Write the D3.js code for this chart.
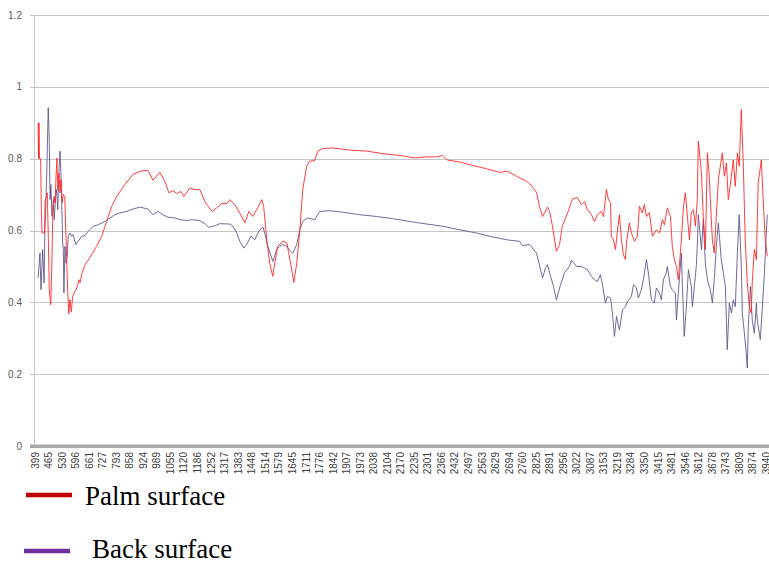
<!DOCTYPE html>
<html>
<head>
<meta charset="utf-8">
<script src="https://cdn.jsdelivr.net/npm/d3@7"></script>
<style>
  html, body { margin: 0; padding: 0; background: #fff; }
  svg { display: block; }
</style>
</head>
<body>
<svg id="chart" width="769" height="563"></svg>
<script>
// ---- data ----
const xTickLabels = ["399","465","530","596","661","727","793","858","924","989","1055","1120","1186","1252","1317","1383","1448","1514","1579","1645","1711","1776","1842","1907","1973","2038","2104","2170","2235","2301","2366","2432","2497","2563","2629","2694","2760","2825","2891","2956","3022","3087","3153","3219","3284","3350","3415","3481","3546","3612","3678","3743","3809","3874","3940"];
const yTicks = [0, 0.2, 0.4, 0.6, 0.8, 1, 1.2];
const seriesNames = ["Palm surface", "Back surface"];

const palmWavenumber = [414,416,418,421,426,430,433,445,448,455,458,463,468,475,480,485,491,496,501,505,510,515,520,525,530,536,543,547,552,557,563,568,575,581,589,597,604,612,617,626,641,665,697,722,746,770,794,834,873,907,945,970,1003,1028,1047,1066,1086,1105,1120,1149,1173,1197,1221,1255,1279,1303,1328,1342,1366,1390,1415,1434,1453,1477,1497,1506,1521,1535,1550,1560,1574,1598,1618,1627,1642,1652,1666,1681,1695,1714,1729,1753,1768,1792,1840,1922,2005,2082,2164,2237,2295,2343,2372,2396,2454,2517,2585,2648,2686,2730,2778,2807,2827,2841,2856,2865,2880,2890,2904,2923,2938,2952,2977,3001,3025,3044,3059,3073,3093,3107,3122,3141,3151,3165,3175,3185,3189,3199,3209,3218,3228,3238,3247,3257,3262,3276,3286,3301,3315,3325,3339,3349,3359,3373,3388,3407,3422,3436,3446,3460,3475,3484,3494,3504,3513,3528,3538,3547,3557,3567,3576,3586,3596,3605,3610,3625,3634,3644,3654,3663,3673,3678,3687,3697,3707,3721,3726,3736,3746,3755,3770,3779,3789,3799,3808,3818,3828,3837,3847,3857,3866,3871,3881,3891,3900,3915,3924,3934,3944];
const palmValue = [0.90,0.80,0.90,0.80,0.80,0.65,0.593,0.593,0.686,0.69,0.705,0.593,0.435,0.393,0.491,0.639,0.695,0.677,0.751,0.802,0.714,0.76,0.705,0.742,0.677,0.70,0.695,0.621,0.528,0.435,0.368,0.407,0.374,0.416,0.426,0.435,0.444,0.463,0.455,0.48,0.505,0.525,0.556,0.584,0.625,0.667,0.695,0.728,0.756,0.765,0.768,0.74,0.762,0.737,0.705,0.711,0.703,0.709,0.695,0.718,0.714,0.714,0.681,0.653,0.663,0.675,0.675,0.686,0.672,0.649,0.621,0.653,0.639,0.663,0.686,0.667,0.574,0.509,0.472,0.51,0.556,0.57,0.566,0.538,0.49,0.455,0.509,0.60,0.714,0.779,0.793,0.795,0.821,0.828,0.83,0.824,0.821,0.814,0.809,0.802,0.805,0.805,0.809,0.796,0.791,0.781,0.772,0.762,0.765,0.751,0.737,0.723,0.705,0.667,0.639,0.649,0.665,0.653,0.612,0.542,0.561,0.612,0.649,0.688,0.692,0.672,0.681,0.658,0.644,0.625,0.644,0.653,0.639,0.714,0.686,0.677,0.584,0.574,0.547,0.598,0.644,0.574,0.533,0.519,0.565,0.621,0.593,0.57,0.584,0.667,0.649,0.672,0.639,0.65,0.584,0.602,0.593,0.63,0.616,0.663,0.639,0.556,0.519,0.50,0.463,0.574,0.667,0.705,0.639,0.574,0.649,0.658,0.612,0.686,0.849,0.76,0.639,0.547,0.816,0.751,0.63,0.574,0.537,0.639,0.742,0.796,0.816,0.751,0.788,0.686,0.751,0.796,0.723,0.816,0.779,0.937,0.779,0.574,0.454,0.388,0.37,0.454,0.547,0.519,0.733,0.796,0.686,0.574,0.528];

const backWavenumber = [414,423,428,436,443,447,456,463,468,472,476,481,488,492,499,504,509,515,520,525,530,533,536,539,544,549,555,560,568,576,584,596,608,625,641,657,681,705,722,738,762,786,810,842,874,907,945,970,994,1018,1042,1076,1100,1134,1163,1197,1221,1240,1269,1294,1342,1357,1376,1390,1410,1424,1444,1463,1482,1502,1511,1526,1545,1550,1569,1584,1598,1618,1632,1647,1666,1681,1695,1705,1719,1753,1777,1826,1888,1971,2053,2130,2213,2295,2372,2454,2537,2614,2696,2744,2759,2793,2827,2846,2856,2870,2880,2890,2909,2923,2943,2962,2986,2996,3020,3044,3059,3073,3093,3107,3122,3136,3146,3160,3170,3185,3194,3204,3214,3228,3243,3257,3267,3286,3296,3310,3320,3334,3344,3359,3368,3383,3397,3407,3422,3431,3441,3455,3460,3475,3484,3499,3504,3513,3528,3533,3542,3552,3562,3576,3581,3591,3600,3605,3610,3625,3634,3644,3654,3668,3678,3687,3697,3707,3721,3731,3741,3750,3760,3770,3779,3789,3799,3808,3818,3823,3833,3842,3847,3852,3862,3871,3881,3891,3895,3910,3920,3929,3939,3944];
const backValue = [0.468,0.537,0.435,0.547,0.454,0.602,0.76,0.942,0.853,0.686,0.728,0.639,0.686,0.63,0.695,0.714,0.658,0.76,0.821,0.751,0.639,0.565,0.547,0.426,0.556,0.509,0.528,0.584,0.593,0.584,0.588,0.561,0.57,0.584,0.586,0.598,0.612,0.616,0.621,0.625,0.635,0.644,0.649,0.653,0.66,0.665,0.66,0.644,0.653,0.644,0.637,0.635,0.63,0.628,0.63,0.627,0.619,0.609,0.613,0.619,0.618,0.612,0.593,0.57,0.551,0.561,0.584,0.574,0.598,0.61,0.593,0.556,0.523,0.514,0.547,0.556,0.561,0.556,0.545,0.537,0.561,0.602,0.625,0.63,0.635,0.63,0.653,0.655,0.651,0.644,0.639,0.633,0.625,0.618,0.612,0.602,0.593,0.582,0.573,0.57,0.558,0.561,0.537,0.491,0.468,0.496,0.505,0.482,0.444,0.407,0.449,0.482,0.50,0.517,0.50,0.50,0.495,0.491,0.472,0.463,0.458,0.477,0.449,0.398,0.416,0.412,0.37,0.305,0.361,0.323,0.379,0.388,0.402,0.416,0.449,0.44,0.412,0.435,0.463,0.519,0.482,0.407,0.398,0.44,0.426,0.407,0.463,0.482,0.50,0.444,0.435,0.426,0.351,0.426,0.537,0.444,0.305,0.388,0.491,0.444,0.388,0.444,0.50,0.556,0.644,0.547,0.63,0.509,0.463,0.435,0.398,0.463,0.556,0.621,0.519,0.482,0.444,0.268,0.398,0.37,0.407,0.388,0.537,0.644,0.50,0.37,0.314,0.258,0.217,0.333,0.444,0.351,0.314,0.398,0.351,0.296,0.388,0.472,0.593,0.644];

// ---- layout ----
(function () {
const svg = d3.select("#chart");
const plotLeft = 34, plotTop = 15, plotBottom = 446, plotRight = 769;

const x = d3.scaleLinear().domain([399, 3940]).range([35, 766.5]);
const y = d3.scaleLinear().domain([0, 1.2]).range([plotBottom, plotTop]);

// gridlines
svg.append("g").selectAll("line").data(yTicks.filter(d => d > 0)).join("line")
  .attr("x1", plotLeft - 4).attr("x2", plotRight)
  .attr("y1", d => Math.round(y(d)) + 0.5).attr("y2", d => Math.round(y(d)) + 0.5)
  .attr("stroke", "#c6c6c6").attr("stroke-width", 1.2);

// y axis line
svg.append("line")
  .attr("x1", plotLeft + 0.5).attr("x2", plotLeft + 0.5)
  .attr("y1", plotTop).attr("y2", plotBottom)
  .attr("stroke", "#c6c6c6").attr("stroke-width", 1);

// y tick labels
svg.append("g").selectAll("text").data(yTicks).join("text")
  .attr("x", 22).attr("y", d => y(d)).attr("dy", "0.35em")
  .attr("text-anchor", "end")
  .attr("font-family", "Liberation Sans, Arial, sans-serif")
  .attr("font-size", 10).attr("fill", "#595959")
  .text(d => d3.format("~g")(d));

// series lines
const lineGen = d3.line().x(d => x(d[0])).y(d => y(d[1]));
const backData = backWavenumber.map((w, i) => [w, backValue[i]]);
const palmData = palmWavenumber.map((w, i) => [w, palmValue[i]]);

svg.append("path").datum(backData)
  .attr("d", lineGen).attr("fill", "none")
  .attr("stroke", "#5d4f86").attr("stroke-opacity", 0.85).attr("stroke-width", 1);
svg.append("path").datum(palmData)
  .attr("d", lineGen).attr("fill", "none")
  .attr("stroke", "#ff2a2a").attr("stroke-opacity", 0.9).attr("stroke-width", 1);

// x axis (dense category ticks look like a thick band)
svg.append("rect")
  .attr("x", plotLeft - 4).attr("y", plotBottom - 1.5)
  .attr("width", plotRight - plotLeft + 4).attr("height", 3.5)
  .attr("fill", "#a8a8a8");

// x tick labels (rotated)
svg.append("g").selectAll("text").data(xTickLabels).join("text")
  .attr("transform", d => `translate(${x(+d)},452) rotate(-90)`)
  .attr("dy", "0.35em")
  .attr("text-anchor", "end")
  .attr("font-family", "Liberation Sans, Arial, sans-serif")
  .attr("font-size", 10).attr("fill", "#404040")
  .text(d => d);

// legend
const legendColors = ["#c00000", "#7030a0"];
const legend = svg.append("g");
const legendRows = [
  {name: seriesNames[0], color: legendColors[0], lx1: 26, lx2: 72, ly: 495, tx: 85, ty: 505},
  {name: seriesNames[1], color: legendColors[1], lx1: 24, lx2: 70, ly: 551, tx: 92, ty: 558}
];
legendRows.forEach(r => {
  legend.append("line")
    .attr("x1", r.lx1).attr("x2", r.lx2).attr("y1", r.ly).attr("y2", r.ly)
    .attr("stroke", r.color).attr("stroke-width", 4.5);
  legend.append("text")
    .attr("x", r.tx).attr("y", r.ty)
    .attr("font-family", "Liberation Serif, Times New Roman, serif")
    .attr("font-size", 27).attr("fill", "#000")
    .text(r.name);
});
})();
</script>
</body>
</html>
